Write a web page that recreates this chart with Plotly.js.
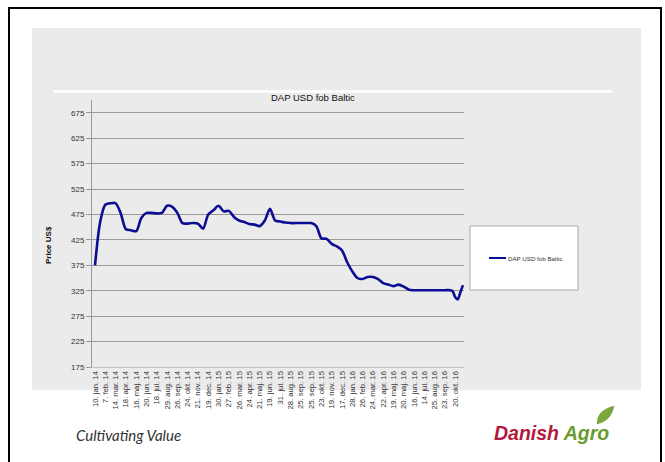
<!DOCTYPE html>
<html>
<head>
<meta charset="utf-8">
<script src="https://cdn.plot.ly/plotly-3.0.1.min.js"></script>
<style>
  html, body { margin: 0; padding: 0; background: #ffffff; }
  #chart { width: 665px; height: 462px; }
</style>
</head>
<body>
<div id="chart"></div>
<script>
// ---- Data ----
const tickLabels = [
  "10. jan. 14", "7. feb. 14", "14. mar. 14", "18. apr. 14", "16. maj. 14", "20. jun. 14",
  "18. jul. 14", "29. aug. 14", "26. sep. 14", "24. okt. 14", "21. nov. 14", "19. dec. 14",
  "30. jan. 15", "27. feb. 15", "26. mar. 15", "24. apr. 15", "21. maj. 15", "19. jun. 15",
  "31. jul. 15", "28. aug. 15", "25. sep. 15", "25. sep. 15", "23. okt. 15", "19. nov. 15",
  "17. dec. 15", "28. jan. 16", "26. feb. 16", "24. mar. 16", "22. apr. 16", "19. maj. 16",
  "20. maj. 16", "16. jun. 16", "14. jul. 16", "25. aug. 16", "23. sep. 16", "20. okt. 16"
];
const labelStep = 4; // one label every 4 weekly categories

const weeks = [
  0, 2, 4, 6, 8, 10, 12, 14, 16, 18, 20, 22, 24, 26, 28, 30, 32, 34, 36, 38,
  40, 42, 44, 46, 48, 50, 52, 54, 56, 58, 60, 62, 64, 66, 68, 70, 72, 74, 76, 78,
  80, 82, 84, 86, 88, 90, 92, 94, 96, 98, 100, 102, 104, 106, 108, 110, 112, 114, 116, 118,
  120, 122, 124, 126, 128, 130, 132, 134, 136, 138, 139, 140, 141, 142, 143
];
const prices = [
  375, 460, 494, 497, 497, 477, 446, 444, 442, 468, 478, 478, 477, 478, 492, 490, 478, 458, 457, 458,
  457, 447, 475, 483, 492, 481, 482, 470, 463, 460, 456, 455, 452, 463, 486, 463, 461, 459, 458, 458,
  458, 458, 458, 452, 428, 427, 417, 412, 404, 381, 363, 350, 348, 352, 352, 348, 340, 337, 334, 337,
  333, 327, 326, 326, 326, 326, 326, 326, 326, 326, 324, 312, 308, 322, 336
];
const seriesName = "DAP USD fob Baltic";
const yTicks = [175, 225, 275, 325, 375, 425, 475, 525, 575, 625, 675];

// ---- Layout helpers (pixel -> paper) ----
const L = 92, R = 464, T = 100, B = 367;
const W = 665, H = 462;
const px = x => (x - L) / (R - L);
const py = y => (B - y) / (B - T);

const lineColor = "#0c0c94";

const tickVals = tickLabels.map((_, i) => i * labelStep);

const trace = {
  x: weeks,
  y: prices,
  type: "scatter",
  mode: "lines",
  name: seriesName,
  line: { color: lineColor, width: 2.6, shape: "spline", smoothing: 0.8 },
  showlegend: false,
  hoverinfo: "x+y"
};

const leafPath = (() => {
  const p = (x, y) => px(x) + "," + py(y);
  return "M" + p(597, 424) + " Q" + p(597, 410) + " " + p(614, 406) +
         " Q" + p(611, 421) + " " + p(597, 424) + " Z";
})();

const layout = {
  width: W,
  height: H,
  margin: { l: L, r: W - R, t: T, b: H - B, pad: 0 },
  paper_bgcolor: "#ffffff",
  plot_bgcolor: "rgba(0,0,0,0)",
  font: { family: "Liberation Sans, Arial, sans-serif", color: "#333333", size: 8 },
  showlegend: false,
  xaxis: {
    range: [-1.17, 143.4],
    tickmode: "array",
    tickvals: tickVals,
    ticktext: tickLabels,
    tickangle: -90,
    tickfont: { size: 7.7, color: "#333333" },
    showgrid: false,
    zeroline: false,
    showline: true,
    linecolor: "#c0c0c0",
    linewidth: 1,
    ticks: "",
    fixedrange: true
  },
  yaxis: {
    range: [175, 700],
    tickmode: "array",
    tickvals: yTicks,
    tickfont: { size: 8, color: "#333333" },
    showgrid: true,
    gridcolor: "#9a9a9a",
    gridwidth: 1,
    zeroline: false,
    showline: true,
    linecolor: "#9a9a9a",
    linewidth: 1,
    ticks: "outside",
    ticklen: 5,
    tickcolor: "#9a9a9a",
    fixedrange: true
  },
  shapes: [
    // outer black frame
    { type: "rect", xref: "paper", yref: "paper", x0: px(9), x1: px(661), y0: py(475), y1: py(8),
      line: { color: "#000000", width: 2 }, fillcolor: "rgba(0,0,0,0)", layer: "below" },
    // grey panel
    { type: "rect", xref: "paper", yref: "paper", x0: px(32), x1: px(641), y0: py(390), y1: py(28),
      line: { width: 0 }, fillcolor: "#ebebeb", layer: "below" },
    // white rule above chart
    { type: "line", xref: "paper", yref: "paper", x0: px(53), x1: px(612), y0: py(91.5), y1: py(91.5),
      line: { color: "#ffffff", width: 2.5 }, layer: "below" },
    // legend box
    { type: "rect", xref: "paper", yref: "paper", x0: px(470), x1: px(578), y0: py(290), y1: py(226),
      line: { color: "#a8a8a8", width: 1 }, fillcolor: "#ffffff", layer: "above" },
    // legend line sample
    { type: "line", xref: "paper", yref: "paper", x0: px(489), x1: px(506), y0: py(258), y1: py(258),
      line: { color: lineColor, width: 2 }, layer: "above" },
    // leaf of logo
    { type: "path", xref: "paper", yref: "paper", path: leafPath,
      fillcolor: "#7aa83a", line: { color: "#6b9b2f", width: 0.5 }, layer: "above" }
  ],
  annotations: [
    { text: seriesName, xref: "paper", yref: "paper", x: px(313), y: py(97),
      xanchor: "center", yanchor: "middle", showarrow: false,
      font: { size: 9.5, color: "#111111", family: "Liberation Sans, Arial, sans-serif" } },
    { text: "<b>Price US$</b>", xref: "paper", yref: "paper", x: px(48), y: py(245),
      xanchor: "center", yanchor: "middle", textangle: -90, showarrow: false,
      font: { size: 8, color: "#111111", family: "Liberation Sans, Arial, sans-serif" } },
    { text: seriesName, xref: "paper", yref: "paper", x: px(506), y: py(258),
      xanchor: "left", yanchor: "middle", showarrow: false,
      font: { size: 6.2, color: "#333333", family: "Liberation Sans, Arial, sans-serif" } },
    { text: "<i>Cultivating Value</i>", xref: "paper", yref: "paper", x: px(74), y: py(435),
      xanchor: "left", yanchor: "middle", showarrow: false,
      font: { size: 15, color: "#333333", family: "Lato, Open Sans, sans-serif" } },
    { text: "<b><i><span style='color:#b2193c'>Danish</span> <span style='color:#6b9b2f'>Agro</span></i></b>",
      xref: "paper", yref: "paper", x: px(492), y: py(433),
      xanchor: "left", yanchor: "middle", showarrow: false,
      font: { size: 19.5, family: "Liberation Sans, Arial, sans-serif" } }
  ]
};

Plotly.newPlot("chart", [trace], layout, { displayModeBar: false, staticPlot: true });
</script>
</body>
</html>
